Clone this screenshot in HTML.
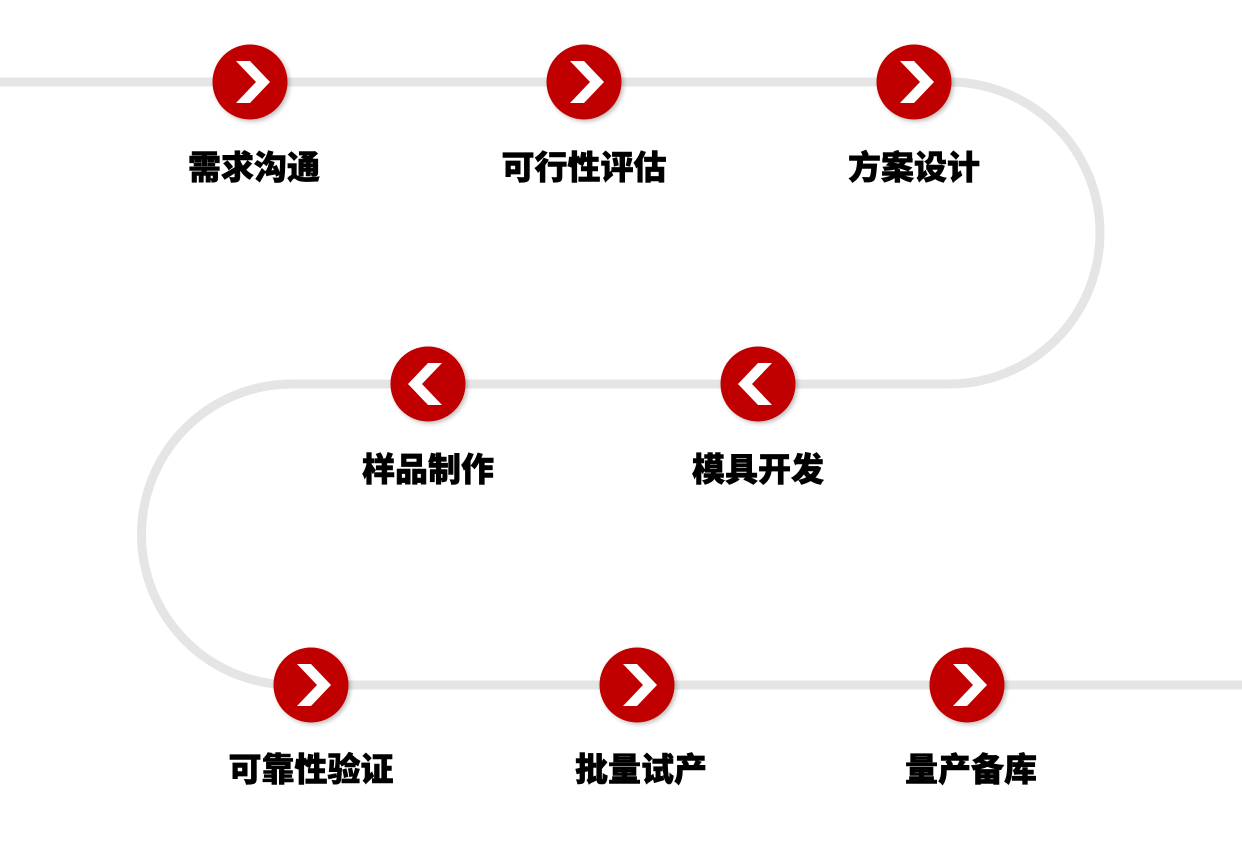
<!DOCTYPE html>
<html><head><meta charset="utf-8"><style>
body{margin:0;width:1242px;height:847px;background:#fff;overflow:hidden;position:relative;font-family:"Liberation Sans","Noto Sans CJK SC",sans-serif}
.t{position:absolute;font-size:33px;font-weight:900;color:#000;transform:translateX(-50%);white-space:nowrap;line-height:1;-webkit-text-stroke:0.6px #000}
</style></head><body>
<svg width="1242" height="847" style="position:absolute;left:0;top:0">
<defs>
<filter id="s" x="-30%" y="-30%" width="160%" height="160%"><feDropShadow dx="2" dy="2" stdDeviation="2" flood-color="#000" flood-opacity="0.25"/></filter>
<g id="r"><circle r="37.5" fill="#c00000" filter="url(#s)"/><polygon points="-14,-21 0,-21 20,0 0,21 -14,21 6,0" fill="#fff"/></g>
<g id="l"><circle r="37.5" fill="#c00000" filter="url(#s)"/><polygon points="14,-21 0,-21 -20,0 0,21 14,21 -6,0" fill="#fff"/></g>
</defs>
<path d="M0,82 H949 A151,151 0 0 1 949,384 H292 A150.5,150.5 0 0 0 292,685 H1242" fill="none" stroke="#e5e5e5" stroke-width="9"/>
<use href="#r" x="250" y="82"/><use href="#r" x="584" y="82"/><use href="#r" x="914" y="82"/>
<use href="#l" x="428" y="384"/><use href="#l" x="758" y="384"/>
<use href="#r" x="311" y="685"/><use href="#r" x="637" y="685"/><use href="#r" x="967" y="685"/>
</svg>
<div class="t" style="left:254px;top:151px">需求沟通</div>
<div class="t" style="left:584px;top:151px">可行性评估</div>
<div class="t" style="left:914px;top:151px">方案设计</div>
<div class="t" style="left:428px;top:453px">样品制作</div>
<div class="t" style="left:758px;top:453px">模具开发</div>
<div class="t" style="left:311px;top:753px">可靠性验证</div>
<div class="t" style="left:641px;top:753px">批量试产</div>
<div class="t" style="left:971px;top:753px">量产备库</div>
</body></html>
